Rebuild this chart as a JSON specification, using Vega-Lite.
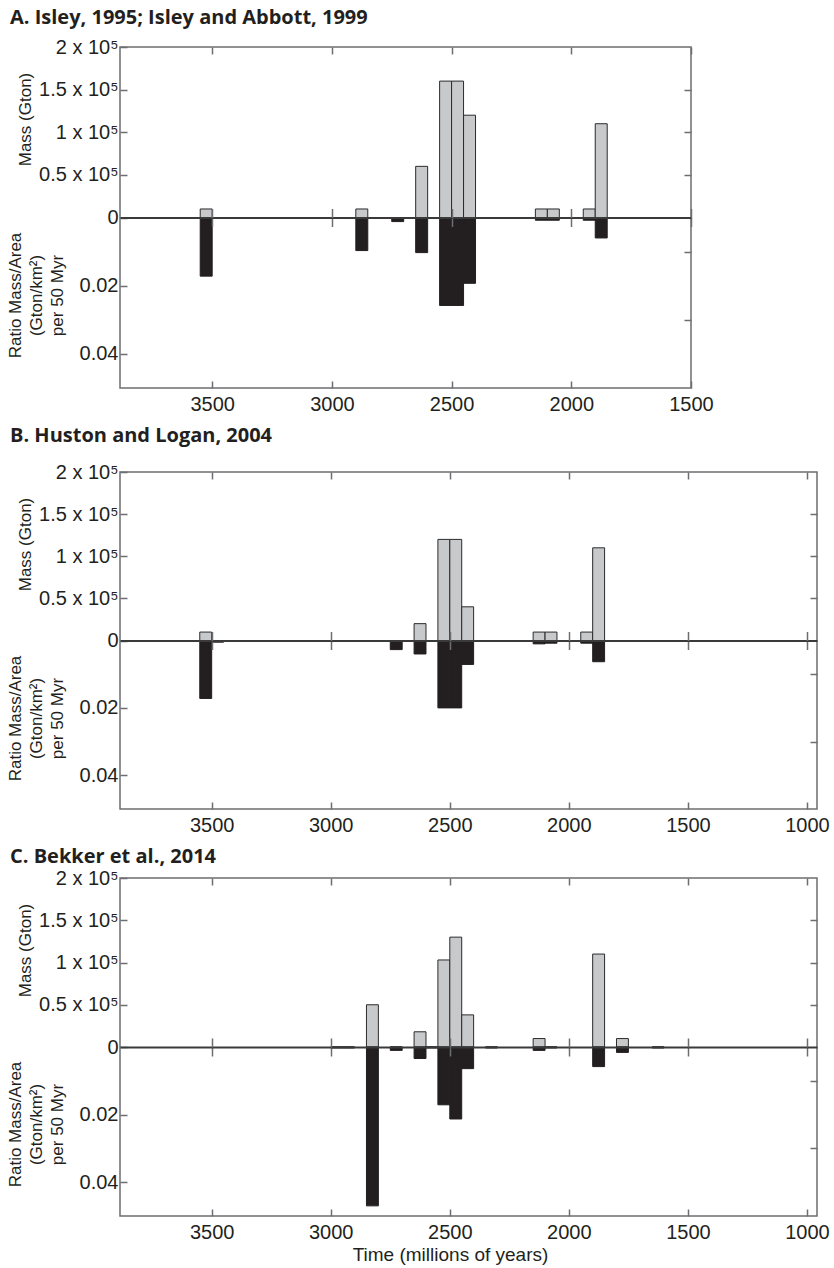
{
  "$schema": "https://vega.github.io/schema/vega-lite/v6.json",
  "background": "white",
  "padding": {"left": 5, "top": 7, "right": 5, "bottom": 0},
  "spacing": 10,
  "datasets": {
    "A": [
      {"start": 3550, "end": 3500, "mass": 10000, "ratio": 0.0172},
      {"start": 2950, "end": 2900, "mass": 0, "ratio": 0.0003},
      {"start": 2900, "end": 2850, "mass": 10000, "ratio": 0.0097},
      {"start": 2750, "end": 2700, "mass": 0, "ratio": 0.0012},
      {"start": 2650, "end": 2600, "mass": 60000, "ratio": 0.0103},
      {"start": 2600, "end": 2550, "mass": 0, "ratio": 0.0003},
      {"start": 2550, "end": 2500, "mass": 160000, "ratio": 0.0258},
      {"start": 2500, "end": 2450, "mass": 160000, "ratio": 0.0258},
      {"start": 2450, "end": 2400, "mass": 120000, "ratio": 0.0193},
      {"start": 2150, "end": 2100, "mass": 10000, "ratio": 0.0008},
      {"start": 2100, "end": 2050, "mass": 10000, "ratio": 0.0008},
      {"start": 1950, "end": 1900, "mass": 10000, "ratio": 0.0008},
      {"start": 1900, "end": 1850, "mass": 110000, "ratio": 0.006}
    ],
    "B": [
      {"start": 3850, "end": 3800, "mass": 0, "ratio": 0.0003},
      {"start": 3750, "end": 3700, "mass": 0, "ratio": 0.0003},
      {"start": 3550, "end": 3500, "mass": 10000, "ratio": 0.0172},
      {"start": 3500, "end": 3450, "mass": 0, "ratio": 0.0005},
      {"start": 3300, "end": 3250, "mass": 0, "ratio": 0.0003},
      {"start": 2950, "end": 2900, "mass": 0, "ratio": 0.0003},
      {"start": 2900, "end": 2850, "mass": 0, "ratio": 0.0003},
      {"start": 2850, "end": 2800, "mass": 0, "ratio": 0.0003},
      {"start": 2800, "end": 2750, "mass": 0, "ratio": 0.0003},
      {"start": 2750, "end": 2700, "mass": 0, "ratio": 0.0027},
      {"start": 2650, "end": 2600, "mass": 20000, "ratio": 0.004},
      {"start": 2600, "end": 2550, "mass": 0, "ratio": 0.0003},
      {"start": 2550, "end": 2500, "mass": 120000, "ratio": 0.02},
      {"start": 2500, "end": 2450, "mass": 120000, "ratio": 0.02},
      {"start": 2450, "end": 2400, "mass": 40000, "ratio": 0.0071},
      {"start": 2150, "end": 2100, "mass": 10000, "ratio": 0.001},
      {"start": 2100, "end": 2050, "mass": 10000, "ratio": 0.0008},
      {"start": 1950, "end": 1900, "mass": 10000, "ratio": 0.0008},
      {"start": 1900, "end": 1850, "mass": 110000, "ratio": 0.0063},
      {"start": 1800, "end": 1750, "mass": 0, "ratio": 0.0003},
      {"start": 1650, "end": 1600, "mass": 0, "ratio": 0.0003}
    ],
    "C": [
      {"start": 3000, "end": 2950, "mass": 0, "ratio": 0.0003},
      {"start": 2950, "end": 2900, "mass": 0, "ratio": 0.0003},
      {"start": 2850, "end": 2800, "mass": 50000, "ratio": 0.047},
      {"start": 2750, "end": 2700, "mass": 0, "ratio": 0.001},
      {"start": 2650, "end": 2600, "mass": 18000, "ratio": 0.0034},
      {"start": 2600, "end": 2550, "mass": 0, "ratio": 0.0003},
      {"start": 2550, "end": 2500, "mass": 103000, "ratio": 0.0171},
      {"start": 2500, "end": 2450, "mass": 130000, "ratio": 0.0213},
      {"start": 2450, "end": 2400, "mass": 38000, "ratio": 0.0064},
      {"start": 2350, "end": 2300, "mass": 0, "ratio": 0.0003},
      {"start": 2150, "end": 2100, "mass": 10000, "ratio": 0.001},
      {"start": 2100, "end": 2050, "mass": 0, "ratio": 0.0003},
      {"start": 1900, "end": 1850, "mass": 110000, "ratio": 0.0058},
      {"start": 1800, "end": 1750, "mass": 10000, "ratio": 0.0016},
      {"start": 1650, "end": 1600, "mass": 0, "ratio": 0.0003}
    ]
  },
  "config": {
    "view": {"stroke": "#6d6e71", "strokeWidth": 1.5},
    "axis": {
      "labelFont": "Liberation Sans", "labelFontSize": 20, "labelColor": "#231f20",
      "titleFont": "Liberation Sans", "titleFontSize": 17, "titleColor": "#231f20", "titleFontWeight": "normal",
      "tickColor": "#6d6e71", "tickWidth": 1.5, "domain": false, "grid": false,
      "labelFlush": false, "labelOverlap": false
    },
    "title": {"font": "Open Sans", "fontSize": 20, "fontWeight": "bold", "color": "#231f20", "anchor": "start"}
  },
  "vconcat": [
    {
      "title": {"text": "A. Isley, 1995; Isley and Abbott, 1999", "anchor": "start", "frame": "group", "dx": -110, "offset": 9},
      "width": 571, "height": 341,
      "data": {"name": "A"},
      "resolve": {"scale": {"y": "independent"}, "axis": {"x": "independent", "y": "independent"}},
      "layer": [
        {
          "mark": {"type": "bar", "fill": "#c8c9cb", "stroke": "#2b2b2b", "strokeWidth": 1},
          "encoding": {
            "x": {"field": "start", "type": "quantitative", "scale": {"domain": [1500, 3885], "reverse": true, "nice": false, "zero": false},
                  "axis": {"orient": "bottom", "values": [3500, 3000, 2500, 2000, 1500], "format": "d", "tickSize": -7, "labelPadding": 13, "title": null}},
            "x2": {"field": "end"},
            "y": {"field": "mass", "type": "quantitative", "scale": {"domain": [-200000, 200000], "nice": false, "zero": false},
                  "axis": {"orient": "left", "values": [0, 50000, 100000, 150000, 200000], "tickSize": -7, "labelPadding": 9,
                           "labelExpr": "datum.value == 0 ? '0' : datum.value == 50000 ? '0.5 x 10⁵' : datum.value == 100000 ? '1 x 10⁵' : datum.value == 150000 ? '1.5 x 10⁵' : '2 x 10⁵'",
                           "title": "Mass (Gton)", "titleAngle": -90, "titleX": -95, "titleY": 72, "titleAlign": "center", "titleBaseline": "middle"}},
            "y2": {"datum": 0}
          }
        },
        {
          "mark": {"type": "bar", "fill": "#231f20", "stroke": "#231f20", "strokeWidth": 1},
          "encoding": {
            "x": {"field": "start", "type": "quantitative", "axis": {"orient": "top", "values": [3500, 3000, 2500, 2000, 1500], "tickSize": -7, "labels": false, "title": null}},
            "x2": {"field": "end"},
            "y": {"field": "ratio", "type": "quantitative", "scale": {"domain": [-0.05, 0.05], "reverse": true, "nice": false, "zero": false},
                  "axis": {"orient": "left", "values": [0.02, 0.04], "format": ".2f", "tickSize": -7, "labelPadding": 9,
                           "title": ["Ratio Mass/Area", "(Gton/km²)", "per 50 Myr"], "titleLineHeight": 21, "titleAngle": -90, "titleX": -105, "titleY": 248, "titleAlign": "center", "titleBaseline": "middle"}},
            "y2": {"datum": 0}
          }
        },
        {
          "mark": {"type": "point", "opacity": 0},
          "encoding": {
            "x": {"field": "start", "type": "quantitative", "axis": {"orient": "bottom", "offset": -170.5, "values": [3500, 3000, 2500, 2000, 1500], "tickSize": 9, "labels": false, "domain": true, "domainColor": "#3a3a3a", "domainWidth": 2, "zindex": 1, "title": null}},
            "y": {"field": "mass", "type": "quantitative", "scale": {"domain": [-200000, 200000], "nice": false, "zero": false},
                  "axis": {"orient": "right", "values": [50000, 100000, 150000], "tickSize": -7, "labels": false, "title": null}}
          }
        },
        {
          "mark": {"type": "point", "opacity": 0},
          "encoding": {
            "x": {"field": "start", "type": "quantitative", "axis": {"orient": "top", "offset": -170.5, "values": [3500, 3000, 2500, 2000, 1500], "tickSize": 9, "labels": false, "zindex": 1, "title": null}},
            "y": {"field": "ratio", "type": "quantitative", "scale": {"domain": [-0.05, 0.05], "reverse": true, "nice": false, "zero": false},
                  "axis": {"orient": "right", "values": [0.01, 0.03], "tickSize": -7, "labels": false, "title": null}}
          }
        }
      ]
    },
    {
      "title": {"text": "B. Huston and Logan, 2004", "anchor": "start", "frame": "group", "dx": -110, "offset": 16},
      "width": 697, "height": 337,
      "data": {"name": "B"},
      "resolve": {"scale": {"y": "independent"}, "axis": {"x": "independent", "y": "independent"}},
      "layer": [
        {
          "mark": {"type": "bar", "fill": "#c8c9cb", "stroke": "#2b2b2b", "strokeWidth": 1},
          "encoding": {
            "x": {"field": "start", "type": "quantitative", "scale": {"domain": [958, 3885], "reverse": true, "nice": false, "zero": false},
                  "axis": {"orient": "bottom", "values": [3500, 3000, 2500, 2000, 1500, 1000], "format": "d", "tickSize": -7, "labelPadding": 13, "title": null}},
            "x2": {"field": "end"},
            "y": {"field": "mass", "type": "quantitative", "scale": {"domain": [-200000, 200000], "nice": false, "zero": false},
                  "axis": {"orient": "left", "values": [0, 50000, 100000, 150000, 200000], "tickSize": -7, "labelPadding": 9,
                           "labelExpr": "datum.value == 0 ? '0' : datum.value == 50000 ? '0.5 x 10⁵' : datum.value == 100000 ? '1 x 10⁵' : datum.value == 150000 ? '1.5 x 10⁵' : '2 x 10⁵'",
                           "title": "Mass (Gton)", "titleAngle": -90, "titleX": -95, "titleY": 72, "titleAlign": "center", "titleBaseline": "middle"}},
            "y2": {"datum": 0}
          }
        },
        {
          "mark": {"type": "bar", "fill": "#231f20", "stroke": "#231f20", "strokeWidth": 1},
          "encoding": {
            "x": {"field": "start", "type": "quantitative", "axis": {"orient": "top", "values": [3500, 3000, 2500, 2000, 1500, 1000], "tickSize": -7, "labels": false, "title": null}},
            "x2": {"field": "end"},
            "y": {"field": "ratio", "type": "quantitative", "scale": {"domain": [-0.05, 0.05], "reverse": true, "nice": false, "zero": false},
                  "axis": {"orient": "left", "values": [0.02, 0.04], "format": ".2f", "tickSize": -7, "labelPadding": 9,
                           "title": ["Ratio Mass/Area", "(Gton/km²)", "per 50 Myr"], "titleLineHeight": 21, "titleAngle": -90, "titleX": -105, "titleY": 246, "titleAlign": "center", "titleBaseline": "middle"}},
            "y2": {"datum": 0}
          }
        },
        {
          "mark": {"type": "point", "opacity": 0},
          "encoding": {
            "x": {"field": "start", "type": "quantitative", "axis": {"orient": "bottom", "offset": -168.5, "values": [3500, 3000, 2500, 2000, 1500, 1000], "tickSize": 9, "labels": false, "domain": true, "domainColor": "#3a3a3a", "domainWidth": 2, "zindex": 1, "title": null}},
            "y": {"field": "mass", "type": "quantitative", "scale": {"domain": [-200000, 200000], "nice": false, "zero": false},
                  "axis": {"orient": "right", "values": [50000, 100000, 150000], "tickSize": -7, "labels": false, "title": null}}
          }
        },
        {
          "mark": {"type": "point", "opacity": 0},
          "encoding": {
            "x": {"field": "start", "type": "quantitative", "axis": {"orient": "top", "offset": -168.5, "values": [3500, 3000, 2500, 2000, 1500, 1000], "tickSize": 9, "labels": false, "zindex": 1, "title": null}},
            "y": {"field": "ratio", "type": "quantitative", "scale": {"domain": [-0.05, 0.05], "reverse": true, "nice": false, "zero": false},
                  "axis": {"orient": "right", "values": [0.01, 0.03], "tickSize": -7, "labels": false, "title": null}}
          }
        }
      ]
    },
    {
      "title": {"text": "C. Bekker et al., 2014", "anchor": "start", "frame": "group", "dx": -110, "offset": 1},
      "width": 697, "height": 338,
      "data": {"name": "C"},
      "resolve": {"scale": {"y": "independent"}, "axis": {"x": "independent", "y": "independent"}},
      "layer": [
        {
          "mark": {"type": "bar", "fill": "#c8c9cb", "stroke": "#2b2b2b", "strokeWidth": 1},
          "encoding": {
            "x": {"field": "start", "type": "quantitative", "scale": {"domain": [958, 3885], "reverse": true, "nice": false, "zero": false},
                  "axis": {"orient": "bottom", "values": [3500, 3000, 2500, 2000, 1500, 1000], "format": "d", "tickSize": -7, "labelPadding": 13,
                           "title": "Time (millions of years)", "titleFontSize": 19, "titleX": 330, "titleY": 38, "titleAlign": "center", "titleBaseline": "middle"}},
            "x2": {"field": "end"},
            "y": {"field": "mass", "type": "quantitative", "scale": {"domain": [-200000, 200000], "nice": false, "zero": false},
                  "axis": {"orient": "left", "values": [0, 50000, 100000, 150000, 200000], "tickSize": -7, "labelPadding": 9,
                           "labelExpr": "datum.value == 0 ? '0' : datum.value == 50000 ? '0.5 x 10⁵' : datum.value == 100000 ? '1 x 10⁵' : datum.value == 150000 ? '1.5 x 10⁵' : '2 x 10⁵'",
                           "title": "Mass (Gton)", "titleAngle": -90, "titleX": -95, "titleY": 72, "titleAlign": "center", "titleBaseline": "middle"}},
            "y2": {"datum": 0}
          }
        },
        {
          "mark": {"type": "bar", "fill": "#231f20", "stroke": "#231f20", "strokeWidth": 1},
          "encoding": {
            "x": {"field": "start", "type": "quantitative", "axis": {"orient": "top", "values": [3500, 3000, 2500, 2000, 1500, 1000], "tickSize": -7, "labels": false, "title": null}},
            "x2": {"field": "end"},
            "y": {"field": "ratio", "type": "quantitative", "scale": {"domain": [-0.05, 0.05], "reverse": true, "nice": false, "zero": false},
                  "axis": {"orient": "left", "values": [0.02, 0.04], "format": ".2f", "tickSize": -7, "labelPadding": 9,
                           "title": ["Ratio Mass/Area", "(Gton/km²)", "per 50 Myr"], "titleLineHeight": 21, "titleAngle": -90, "titleX": -105, "titleY": 246, "titleAlign": "center", "titleBaseline": "middle"}},
            "y2": {"datum": 0}
          }
        },
        {
          "mark": {"type": "point", "opacity": 0},
          "encoding": {
            "x": {"field": "start", "type": "quantitative", "axis": {"orient": "bottom", "offset": -169, "values": [3500, 3000, 2500, 2000, 1500, 1000], "tickSize": 9, "labels": false, "domain": true, "domainColor": "#3a3a3a", "domainWidth": 2, "zindex": 1, "title": null}},
            "y": {"field": "mass", "type": "quantitative", "scale": {"domain": [-200000, 200000], "nice": false, "zero": false},
                  "axis": {"orient": "right", "values": [50000, 100000, 150000], "tickSize": -7, "labels": false, "title": null}}
          }
        },
        {
          "mark": {"type": "point", "opacity": 0},
          "encoding": {
            "x": {"field": "start", "type": "quantitative", "axis": {"orient": "top", "offset": -169, "values": [3500, 3000, 2500, 2000, 1500, 1000], "tickSize": 9, "labels": false, "zindex": 1, "title": null}},
            "y": {"field": "ratio", "type": "quantitative", "scale": {"domain": [-0.05, 0.05], "reverse": true, "nice": false, "zero": false},
                  "axis": {"orient": "right", "values": [0.01, 0.03], "tickSize": -7, "labels": false, "title": null}}
          }
        }
      ]
    }
  ]
}
